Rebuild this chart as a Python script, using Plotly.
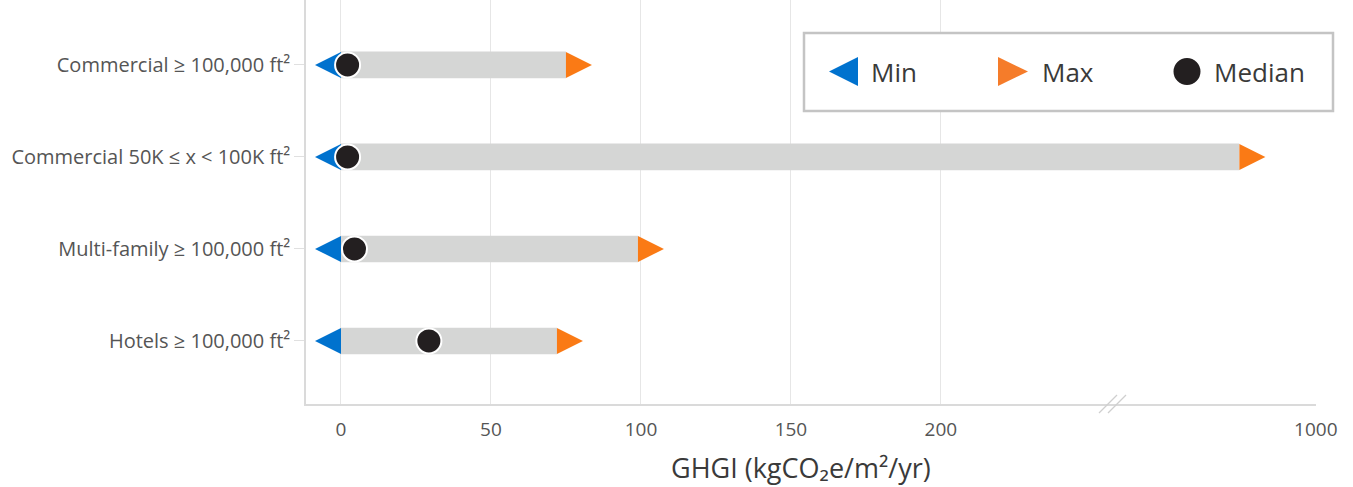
import plotly.graph_objects as go

# ---------------- data ----------------
categories = [
    "Commercial ≥ 100,000 ft²",
    "Commercial 50K ≤ x < 100K ft²",
    "Multi-family ≥ 100,000 ft²",
    "Hotels ≥ 100,000 ft²",
]
min_vals = [0, 0, 0, 0]
max_vals = [75, 850, 99, 72]
median_vals = [2.2, 2.2, 4.5, 29.3]

tick_values = [0, 50, 100, 150, 200, 1000]
tick_labels = ["0", "50", "100", "150", "200", "1000"]

# ---------------- broken-axis scale ----------------
LOW_END = 257          # values up to here are drawn linearly
HIGH_START = 600       # upper segment begins at this value
HIGH_SCALE = 68 / 400  # display units per value unit in upper segment


def disp(v):
    if v <= LOW_END:
        return v
    return LOW_END + (v - HIGH_START) * HIGH_SCALE


# layout geometry (pixels)
W, H = 1353, 487
ML, MR, MT, MB = 306, 37, 0, 83
PW, PH = W - ML - MR, H - MT - MB
X0 = -35 / 3
X1 = X0 + PW / 3          # 3 px per display unit
PX = (X1 - X0) / PW       # display units per pixel
TRI = 26                  # triangle length in px

cat_order = categories[::-1]

min_d = [disp(v) for v in min_vals]
max_d = [disp(v) for v in max_vals]
med_d = [disp(v) for v in median_vals]

fig = go.Figure()

fig.add_trace(go.Bar(
    y=categories, x=[b - a for a, b in zip(min_d, max_d)], base=min_d,
    orientation="h", width=0.29, marker=dict(color="#D5D6D5", line=dict(width=0)),
    showlegend=False, hoverinfo="skip",
))
fig.add_trace(go.Scatter(
    y=categories, x=[d - TRI * PX for d in min_d], mode="markers", name="Min",
    marker=dict(symbol="arrow-left", size=TRI, color="#0072CE", line=dict(width=0)),
    showlegend=False, customdata=min_vals, hovertemplate="Min: %{customdata}<extra></extra>",
))
fig.add_trace(go.Scatter(
    y=categories, x=[d + TRI * PX for d in max_d], mode="markers", name="Max",
    marker=dict(symbol="arrow-right", size=TRI, color="#FA7A15", line=dict(width=0)),
    showlegend=False, customdata=max_vals, hovertemplate="Max: %{customdata}<extra></extra>",
))
fig.add_trace(go.Scatter(
    y=categories, x=med_d, mode="markers", name="Median",
    marker=dict(symbol="circle", size=25, color="#231F20", line=dict(width=2, color="white")),
    showlegend=False, customdata=median_vals, hovertemplate="Median: %{customdata}<extra></extra>",
))


def px_x(p):
    return (p - ML) / PW


def px_y(p):
    return 1 - (p - MT) / PH


shapes = []
# legend box
shapes.append(dict(type="rect", xref="paper", yref="paper",
                   x0=px_x(804), x1=px_x(1333), y0=px_y(111), y1=px_y(33),
                   line=dict(color="#C4C4C4", width=2.5), fillcolor="white", layer="above"))


def tri(tip_x, base_x, cy, half, color):
    path = (f"M {px_x(tip_x)} {px_y(cy)} L {px_x(base_x)} {px_y(cy - half)} "
            f"L {px_x(base_x)} {px_y(cy + half)} Z")
    return dict(type="path", xref="paper", yref="paper", path=path,
                fillcolor=color, line=dict(width=0), layer="above")


shapes.append(tri(829, 858, 71.5, 14.5, "#0072CE"))
shapes.append(tri(1028, 998, 71.5, 14.5, "#F57C2A"))
shapes.append(dict(type="circle", xref="paper", yref="paper",
                   x0=px_x(1173.5), x1=px_x(1200.5), y0=px_y(85), y1=px_y(58),
                   fillcolor="#231F20", line=dict(width=0), layer="above"))
# axis break marks
for dx in (0, 9):
    shapes.append(dict(type="line", xref="paper", yref="paper",
                       x0=px_x(1099 + dx), y0=px_y(413), x1=px_x(1117 + dx), y1=px_y(395),
                       line=dict(color="#CFCFCF", width=1.2), layer="above"))

annotations = []
for txt, xp in (("Min", 869), ("Max", 1040), ("Median", 1212)):
    annotations.append(dict(text=txt, xref="paper", yref="paper", x=px_x(xp), y=px_y(72),
                            xanchor="left", yanchor="middle", showarrow=False,
                            font=dict(size=26, color="#3A3A3A", family="Open Sans")))
annotations.append(dict(text="GHGI (kgCO₂e/m²/yr)", xref="paper", yref="paper",
                        x=px_x(801), y=px_y(468), xanchor="center", yanchor="middle",
                        showarrow=False, font=dict(size=27, color="#3A3A3A", family="Open Sans")))

fig.update_layout(
    width=W, height=H,
    margin=dict(l=ML, r=MR, t=MT, b=MB),
    paper_bgcolor="white", plot_bgcolor="white",
    font=dict(family="Open Sans", color="#555555"),
    barmode="overlay",
    shapes=shapes, annotations=annotations,
    xaxis=dict(
        range=[X0, X1 + 0.05], tickvals=[disp(v) for v in tick_values], ticktext=tick_labels,
        showgrid=True, gridcolor="#E6E6E6", gridwidth=1, zeroline=False,
        showline=True, linecolor="#DADADA", linewidth=1.5, ticks="",
        ticklabelstandoff=7,
        tickfont=dict(size=19, color="#555555"),
    ),
    yaxis=dict(
        type="category", categoryorder="array", categoryarray=cat_order,
        range=[-0.685, 3.706], showgrid=False, zeroline=False,
        showline=True, linecolor="#DADADA", linewidth=1.5,
        ticks="outside", ticklen=10, tickcolor="#E0E0E0",
        tickfont=dict(size=20, color="#555555"),
    ),
)

fig.write_html(
    "out.html",
    config={"displayModeBar": False},
    post_script="document.body.style.margin='0';document.body.style.overflow='hidden';",
)
